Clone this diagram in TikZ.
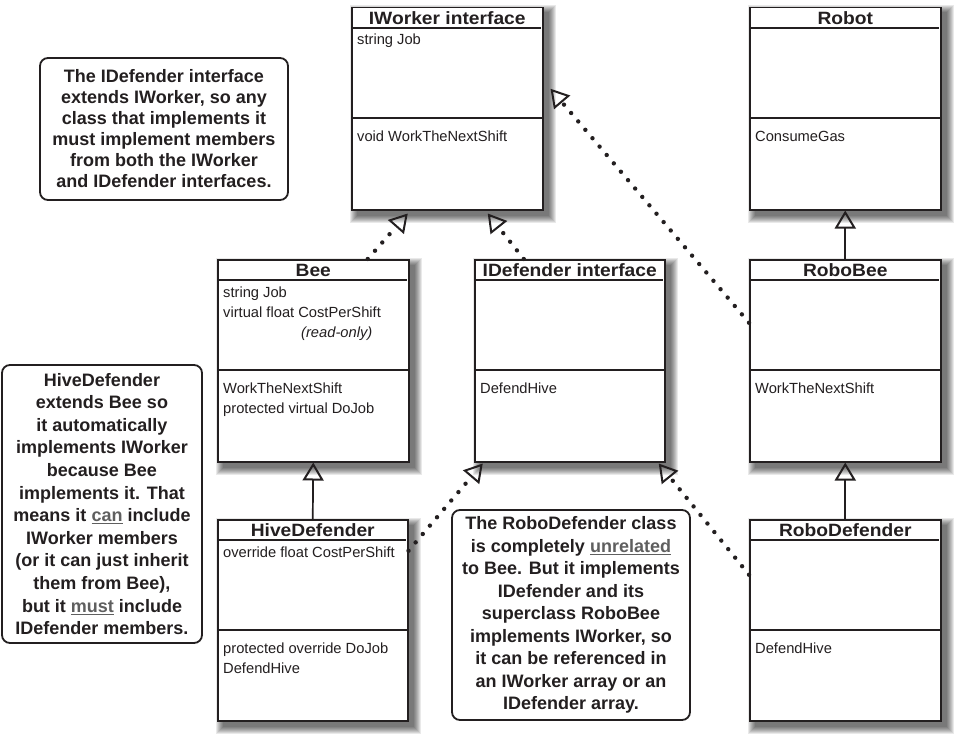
\documentclass[tikz,border=0pt]{standalone}
\usepackage{fontspec}
\setmainfont{Liberation Sans}
\newfontfamily\titlefont[FakeStretch=1.08]{Liberation Sans}
\usetikzlibrary{arrows.meta,calc}
\definecolor{ink}{RGB}{35,31,32}
\definecolor{ulgray}{RGB}{95,95,95}
\newcommand\ulw[1]{\textcolor{ulgray}{\underline{#1}}}
\newcommand\mlines[1]{\begin{tabular}[t]{@{}l@{}}#1\end{tabular}}
\tikzset{
 classbox/.style={draw=ink, line width=1.5pt, fill=white, inner sep=0pt},
 shadowlayer/.style={fill=black, opacity=0.085},
 boxline/.style={draw=ink, line width=1.5pt},
 titletext/.style={font=\titlefont\bfseries\fontsize{17.8}{20}\selectfont, text=ink, inner sep=0pt},
 membertext/.style={font=\fontsize{14.7}{20}\selectfont, text=ink, inner sep=0pt},
 callout/.style={draw=ink, line width=1.8pt, rounded corners=8pt, fill=white, align=center,
   inner sep=2pt, text=ink},
 realize/.style={line width=4.4pt, dash pattern=on 0pt off 11pt, line cap=round, draw=ink,
   -{Triangle[open, length=18pt, width=21pt, line width=2pt]}},
 inherit/.style={line width=1.7pt, draw=ink,
   -{Triangle[open, length=18pt, width=21pt, line width=2pt]}},
}
% #1 name, #2 left, #3 top, #4 width, #5 height, #6 title, #7 attributes, #8 methods
\newcommand\umlclass[8]{%
 \foreach \r in {0.5,1.5,...,7.5}{
   \fill[shadowlayer] (#2+6-\r,#3+6-\r) rectangle (#2+#4+6+\r,#3+#5+6+\r);
 }
 \node[classbox, minimum width=#4pt, minimum height=#5pt, anchor=north west] (#1) at (#2,#3) {};
 \node[titletext, anchor=base] (#1-title) at ($(#1.north)+(0,17.5)$) {#6};
 \draw[boxline] ($(#1.north west)+(0,21)$) -- ($(#1.north east)+(-3,21)$);
 \draw[boxline] ($(#1.north west)+(0,111)$) -- ($(#1.north east)+(0,111)$);
 \node[membertext, anchor=base west] (#1-attr) at ($(#1.north west)+(6,38)$) {\mlines{#7}};
 \node[membertext, anchor=base west] (#1-meth) at ($(#1.north west)+(6,134)$) {\mlines{#8}};
}
\begin{document}
\begin{tikzpicture}[x=1pt,y=-1pt]
\fill[white] (0,0) rectangle (960,741);
\useasboundingbox (0,0) rectangle (960,741);

\umlclass{iworker}{351}{7}{191}{202}{IWorker interface}{string Job}{void WorkTheNextShift}
\umlclass{robot}{749}{7}{191}{202}{Robot}{}{ConsumeGas}
\umlclass{bee}{217}{259}{191}{202}{Bee}{string Job\\ virtual float CostPerShift\\ \hspace*{78pt}\textit{(read-only)}}{WorkTheNextShift\\ protected virtual DoJob}
\umlclass{idef}{474}{259}{190}{202}{IDefender interface}{}{DefendHive}
\umlclass{robobee}{749}{259}{191}{202}{RoboBee}{}{WorkTheNextShift}
\umlclass{hive}{217}{519}{190}{201}{HiveDefender}{override float CostPerShift}{protected override DoJob\\ DefendHive}
\umlclass{robodef}{749}{519}{191}{201}{RoboDefender}{}{DefendHive}

\node[callout, minimum width=248pt, minimum height=142pt, font=\bfseries\fontsize{18}{21}\selectfont] (note1) at (164,129)
 {The IDefender interface\\ extends IWorker, so any\\ class that implements it\\ must implement members\\ from both the IWorker\\ and IDefender interfaces.};
\node[callout, minimum width=200pt, minimum height=278pt, font=\bfseries\fontsize{18}{22.6}\selectfont] (note2) at (102,504)
 {HiveDefender\\ extends Bee so\\ it automatically\\ implements IWorker\\ because Bee\\ implements it. That\\ means it \ulw{can} include\\ IWorker members\\ (or it can just inherit\\ them from Bee),\\ but it \ulw{must} include\\ IDefender members.};
\node[callout, minimum width=238pt, minimum height=210pt, font=\bfseries\fontsize{18}{22.5}\selectfont] (note3) at (571,615)
 {The RoboDefender class\\ is completely \ulw{unrelated}\\ to Bee. But it implements\\ IDefender and its\\ superclass RoboBee\\ implements IWorker, so\\ it can be referenced in\\ an IWorker array or an\\ IDefender array.};

\draw[realize] ([xshift=54.5pt]bee.north) -- ([xshift=-39.5pt,yshift=-3pt]iworker.south);
\draw[realize] ([xshift=-46pt]idef.north) -- ([xshift=40.5pt,yshift=-3pt]iworker.south);
\draw[realize] ([yshift=38pt]robobee.west) -- ([xshift=7pt,yshift=20pt]iworker.east);
\draw[realize] ([yshift=69.5pt]hive.east) -- ([xshift=-87pt,yshift=-1pt]idef.south);
\draw[realize] ([yshift=45.5pt]robodef.west) -- ([xshift=89pt,yshift=-1pt]idef.south);
\draw[inherit] (robobee.north) -- (robot.south);
\draw[inherit] (hive.north) -- (bee.south);
\draw[inherit] (robodef.north) -- (robobee.south);
\end{tikzpicture}
\end{document}
